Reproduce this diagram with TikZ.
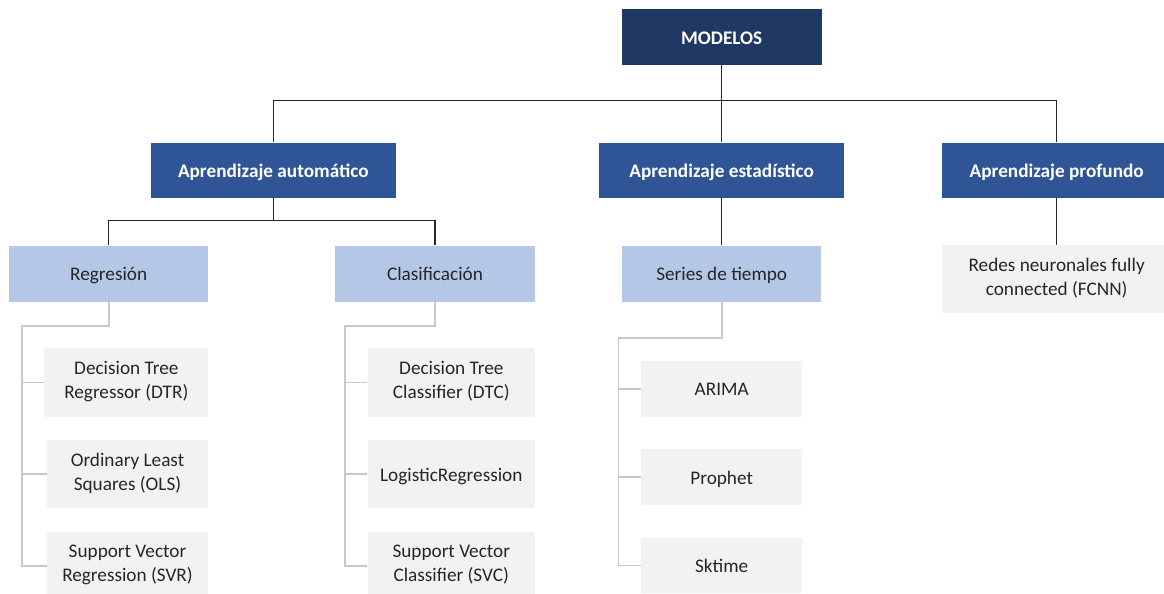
\documentclass[tikz,border=0pt]{standalone}
\usepackage{fontspec}
\setmainfont{Carlito}
\definecolor{navy}{HTML}{203864}
\definecolor{midblue}{HTML}{2F5597}
\definecolor{lightblue}{HTML}{B4C7E7}
\definecolor{leafgray}{HTML}{F2F2F2}
\definecolor{linegray}{HTML}{C8C8C8}
\definecolor{textdark}{HTML}{262626}
\newcommand{\lnstrut}{\rule[-4.9bp]{0pt}{24bp}}
\tikzset{
  box/.style={rectangle, inner sep=0pt, align=center, execute at begin node=\lnstrut, font=\fontsize{19.3}{24}\selectfont},
  topbox/.style={box, fill=navy, text=white, font=\fontsize{19.3}{24}\selectfont\bfseries},
  catbox/.style={box, fill=midblue, text=white, font=\fontsize{19.3}{24}\selectfont\bfseries},
  subbox/.style={box, fill=lightblue, text=textdark},
  leafbox/.style={box, fill=leafgray, text=textdark},
  blk/.style={draw=black!85, line width=1.3bp},
  gry/.style={draw=linegray, line width=1.6bp},
}
\begin{document}
\begin{tikzpicture}[x=1bp, y=-1bp]
\useasboundingbox (0,0) rectangle (1164,594);
% level 0
\node[topbox, minimum width=200bp, minimum height=55.7bp] (mod) at (721.7,37.2) {MODELOS};
% level 1
\node[catbox, minimum width=245.3bp, minimum height=55.6bp] (aa) at (273.3,170.5) {Aprendizaje automático};
\node[catbox, minimum width=245bp, minimum height=55.6bp] (ae) at (721.7,170.5) {Aprendizaje estadístico};
\node[catbox, minimum width=230bp, minimum height=55.6bp] (ap) at (1056.7,170.5) {Aprendizaje profundo};
% level 2
\node[subbox, minimum width=199.3bp, minimum height=56bp] (reg) at (108.7,273.7) {Regresión};
\node[subbox, minimum width=200bp, minimum height=56bp] (cla) at (435,273.7) {Clasificación};
\node[subbox, minimum width=199.5bp, minimum height=56bp] (ser) at (721.7,273.7) {Series de tiempo};
\node[leafbox, minimum width=230bp, minimum height=67.7bp] (fc) at (1056.7,278.9) {Redes neuronales fully\\\lnstrut connected (FCNN)};
% leaves regression
\node[leafbox, minimum width=164bp, minimum height=68.4bp] (dtr) at (126.3,382.5) {Decision Tree\\\lnstrut Regressor (DTR)};
\node[leafbox, minimum width=161.6bp, minimum height=68.3bp] (ols) at (127.5,474.2) {Ordinary Least\\\lnstrut Squares (OLS)};
\node[leafbox, minimum width=161.6bp, minimum height=68.3bp] (svr) at (127.5,565.8) {Support Vector\\\lnstrut Regression (SVR)};
% leaves classification
\node[leafbox, minimum width=167.3bp, minimum height=68.4bp] (dtc) at (451.3,382.5) {Decision Tree\\\lnstrut Classifier (DTC)};
\node[leafbox, minimum width=167.3bp, minimum height=68.3bp] (lr) at (451.3,474.2) {LogisticRegression};
\node[leafbox, minimum width=167.3bp, minimum height=68.3bp] (svc) at (451.3,565.8) {Support Vector\\\lnstrut Classifier (SVC)};
% leaves time series
\node[leafbox, minimum width=161.3bp, minimum height=55.7bp] (ari) at (721.7,388.8) {ARIMA};
\node[leafbox, minimum width=161.3bp, minimum height=55.7bp] (pro) at (721.7,477.2) {Prophet};
\node[leafbox, minimum width=161.3bp, minimum height=55.7bp] (skt) at (721.7,565.5) {Sktime};
% junction coordinates
\coordinate (b1) at (721.7,100.5);
\coordinate (b2) at (273.3,220.7);
\coordinate (rk) at (21.7,326);
\coordinate (ck) at (345,326);
\coordinate (sk) at (618.3,337.7);
% black connectors
\draw[blk] (mod.south) -- (b1);
\draw[blk] (aa.north) |- (b1);
\draw[blk] (ap.north) |- (b1);
\draw[blk] (ae.north) -- (b1);
\draw[blk] (aa.south) -- (b2);
\draw[blk] (reg.north) |- (b2);
\draw[blk] (cla.north) |- (b2);
\draw[blk] (ae.south) -- (ser.north);
\draw[blk] (ap.south) -- (fc.north);
% gray connectors
\draw[gry] (reg.south) |- (rk) |- (svr.west);
\draw[gry] (rk |- dtr.west) -- (dtr.west);
\draw[gry] (rk |- ols.west) -- (ols.west);
\draw[gry] (cla.south) |- (ck) |- (svc.west);
\draw[gry] (ck |- dtc.west) -- (dtc.west);
\draw[gry] (ck |- lr.west) -- (lr.west);
\draw[gry] (ser.south) |- (sk) |- (skt.west);
\draw[gry] (sk |- ari.west) -- (ari.west);
\draw[gry] (sk |- pro.west) -- (pro.west);
\end{tikzpicture}
\end{document}
